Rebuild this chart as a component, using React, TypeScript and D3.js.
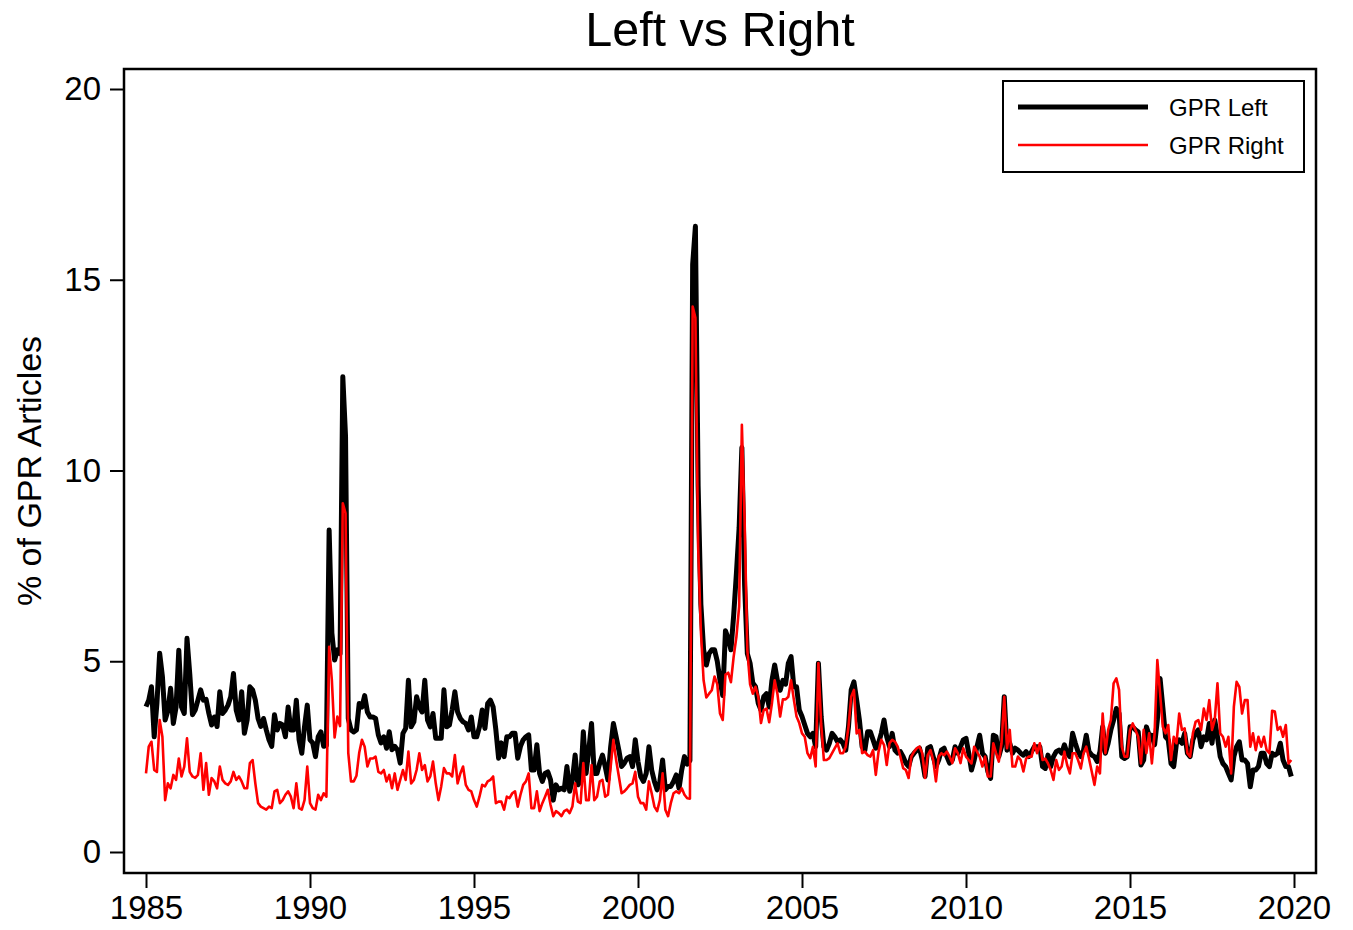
import React, { useEffect, useRef } from 'react'
import * as d3 from 'd3'

// monthly series, Jan 1985 .. Dec 2019 (one row per year)
const startYear = 1985

const gprLeft: number[] = [
  3.81, 3.98, 4.33, 3.02, 3.9, 5.21, 4.6, 3.46, 3.7, 4.29, 3.37, 3.8, // 1985
  5.29, 3.8, 3.63, 5.6, 4.68, 3.6, 3.72, 3.98, 4.25, 3.98, 4.0, 3.63, // 1986
  3.33, 3.54, 3.29, 4.2, 3.63, 3.72, 3.85, 4.07, 4.68, 3.72, 3.46, 4.2, // 1987
  3.11, 3.46, 4.33, 4.25, 3.98, 3.5, 3.29, 3.5, 3.2, 2.94, 2.77, 3.6, // 1988
  3.2, 3.37, 3.33, 3.02, 3.8, 3.2, 3.2, 3.98, 2.94, 2.59, 3.29, 3.85, // 1989
  2.94, 2.86, 2.5, 3.02, 3.15, 2.77, 2.8, 8.44, 5.74, 5.03, 5.3, 5.2, // 1990
  12.46, 10.9, 3.5, 3.2, 3.15, 3.2, 3.89, 3.8, 4.1, 3.67, 3.54, 3.54, // 1991
  3.5, 3.07, 2.86, 3.02, 2.72, 3.15, 2.68, 2.77, 2.68, 2.33, 3.11, 3.24, // 1992
  4.5, 3.28, 3.41, 4.07, 3.8, 3.67, 4.5, 3.46, 3.28, 3.63, 2.98, 2.98, // 1993
  2.98, 4.25, 3.28, 3.33, 3.72, 4.2, 3.67, 3.5, 3.41, 3.37, 3.2, 3.54, // 1994
  3.02, 3.02, 3.28, 3.72, 3.24, 3.89, 3.98, 3.8, 3.2, 2.46, 2.86, 2.5, // 1995
  3.02, 3.02, 3.11, 3.11, 2.46, 2.77, 2.94, 3.02, 3.07, 2.15, 2.15, 2.81, // 1996
  2.06, 1.85, 2.06, 2.1, 1.89, 1.36, 1.76, 1.63, 1.67, 1.63, 2.24, 1.59, // 1997
  1.89, 2.54, 1.76, 1.85, 3.15, 2.06, 2.67, 3.37, 2.06, 2.06, 2.33, 2.54, // 1998
  2.24, 1.89, 2.76, 3.37, 3.02, 2.67, 2.24, 2.33, 2.46, 2.5, 2.24, 2.94, // 1999
  2.37, 1.98, 1.85, 2.06, 2.76, 2.15, 1.85, 1.63, 1.85, 2.41, 1.63, 1.72, // 2000
  1.72, 1.85, 2.02, 1.67, 2.15, 2.5, 2.3, 2.4, 15.4, 16.4, 9.6, 6.5, // 2001
  5.3, 4.9, 5.2, 5.3, 5.3, 5.0, 4.5, 4.1, 5.8, 5.6, 5.3, 6.2, // 2002
  7.3, 8.5, 10.6, 7.0, 5.2, 4.95, 4.43, 4.33, 3.9, 3.72, 4.07, 4.15, // 2003
  3.8, 4.5, 4.9, 4.5, 4.24, 4.5, 4.4, 4.95, 5.12, 4.33, 4.33, 3.72, // 2004
  3.55, 3.33, 3.11, 3.02, 3.11, 2.76, 4.95, 3.55, 2.76, 2.67, 2.85, 3.11, // 2005
  3.02, 2.89, 2.94, 2.85, 2.67, 3.28, 4.25, 4.46, 3.98, 3.46, 2.76, 2.67, // 2006
  3.15, 3.15, 2.94, 2.72, 2.85, 3.11, 3.46, 3.02, 2.76, 3.11, 2.67, 2.59, // 2007
  2.63, 2.5, 2.33, 2.24, 2.5, 2.59, 2.67, 2.72, 2.41, 1.98, 2.72, 2.76, // 2008
  2.5, 2.24, 2.41, 2.67, 2.72, 2.5, 2.33, 2.41, 2.76, 2.59, 2.76, 2.94, // 2009
  2.98, 2.59, 2.15, 2.41, 2.76, 3.06, 2.59, 2.5, 2.11, 1.93, 3.06, 3.02, // 2010
  2.5, 2.76, 4.07, 2.67, 2.85, 2.59, 2.72, 2.67, 2.59, 2.54, 2.63, 2.5, // 2011
  2.63, 2.76, 2.76, 2.76, 2.24, 2.19, 2.54, 2.24, 2.5, 2.63, 2.67, 2.59, // 2012
  2.81, 2.59, 2.5, 3.11, 2.85, 2.63, 2.5, 2.67, 3.06, 2.63, 2.54, 2.5, // 2013
  2.37, 2.63, 3.28, 2.59, 2.85, 3.2, 3.46, 3.76, 3.63, 2.5, 2.45, 2.5, // 2014
  3.28, 3.28, 3.2, 3.15, 2.28, 2.41, 3.28, 3.06, 3.06, 2.81, 3.46, 4.55, // 2015
  3.8, 3.02, 2.94, 2.32, 2.24, 2.85, 2.94, 2.85, 3.11, 2.59, 2.5, 2.94, // 2016
  3.11, 3.2, 2.76, 3.02, 2.94, 3.37, 2.85, 3.46, 3.02, 2.5, 2.32, 2.24, // 2017
  2.06, 1.89, 2.5, 2.76, 2.89, 2.41, 2.41, 2.32, 1.71, 2.15, 2.15, 2.24, // 2018
  2.59, 2.59, 2.32, 2.24, 2.59, 2.54, 2.59, 2.85, 2.41, 2.24, 2.24, 1.98 // 2019
]

const gprRight: number[] = [
  2.06, 2.76, 2.89, 2.15, 2.1, 3.46, 3.02, 1.36, 1.8, 1.67, 2.02, 1.89, // 1985
  2.45, 1.98, 2.24, 2.98, 2.1, 1.98, 1.94, 2.02, 2.59, 1.63, 2.33, 1.5, // 1986
  1.94, 1.85, 1.67, 2.24, 1.89, 1.8, 1.76, 1.85, 2.1, 1.89, 1.98, 1.85, // 1987
  1.67, 1.67, 2.33, 2.41, 1.8, 1.28, 1.19, 1.15, 1.11, 1.19, 1.15, 1.59, // 1988
  1.63, 1.28, 1.36, 1.5, 1.59, 1.45, 1.15, 1.8, 1.15, 1.11, 1.36, 2.24, // 1989
  1.28, 1.15, 1.11, 1.5, 1.36, 1.54, 1.45, 5.38, 4.5, 3.0, 3.55, 3.3, // 1990
  9.14, 8.88, 2.6, 1.85, 1.85, 2.0, 2.6, 2.94, 2.76, 2.24, 2.45, 2.45, // 1991
  2.5, 2.1, 2.06, 2.15, 1.85, 2.02, 1.67, 2.06, 1.63, 1.89, 2.15, 1.89, // 1992
  2.63, 1.8, 1.89, 2.15, 2.59, 2.15, 2.28, 1.85, 1.98, 2.37, 1.8, 1.36, // 1993
  1.72, 2.2, 2.06, 2.06, 1.98, 2.54, 1.8, 2.06, 2.24, 1.76, 1.63, 1.59, // 1994
  1.36, 1.19, 1.45, 1.76, 1.72, 1.85, 1.89, 1.98, 1.28, 1.32, 1.32, 1.11, // 1995
  1.45, 1.41, 1.54, 1.59, 1.19, 1.5, 1.76, 1.85, 2.06, 1.15, 1.15, 1.59, // 1996
  1.07, 1.28, 1.45, 1.63, 1.24, 0.94, 1.07, 1.02, 0.94, 1.07, 1.11, 1.02, // 1997
  1.19, 1.8, 1.32, 1.28, 2.33, 1.36, 1.36, 2.28, 1.36, 1.45, 1.85, 1.89, // 1998
  1.45, 1.5, 2.24, 2.94, 2.41, 1.98, 1.54, 1.59, 1.67, 1.76, 1.8, 2.1, // 1999
  1.45, 1.28, 1.28, 1.11, 1.85, 1.54, 1.19, 1.07, 1.36, 2.06, 1.11, 0.94, // 2000
  1.28, 1.54, 1.59, 1.54, 1.67, 1.5, 1.41, 1.4, 14.3, 14.0, 8.0, 5.8, // 2001
  4.5, 4.05, 4.15, 4.24, 4.6, 4.4, 3.63, 3.46, 4.65, 4.7, 4.45, 5.12, // 2002
  5.64, 6.43, 11.2, 8.7, 5.3, 4.4, 4.15, 4.33, 4.07, 3.38, 3.72, 3.76, // 2003
  3.4, 3.9, 4.5, 4.15, 3.55, 4.0, 4.0, 4.07, 4.5, 4.0, 3.55, 3.38, // 2004
  3.11, 3.02, 2.59, 2.46, 2.76, 2.24, 4.95, 3.37, 2.41, 2.41, 2.46, 2.59, // 2005
  2.72, 2.85, 2.59, 2.59, 2.76, 3.28, 4.07, 4.25, 3.11, 3.2, 2.59, 2.63, // 2006
  2.54, 2.5, 2.67, 2.02, 2.63, 2.94, 2.81, 2.28, 2.85, 2.94, 2.89, 2.76, // 2007
  2.5, 2.2, 2.15, 1.94, 2.5, 2.63, 2.72, 2.76, 2.59, 1.94, 2.54, 2.67, // 2008
  2.41, 1.85, 2.5, 2.59, 2.54, 2.63, 2.5, 2.33, 2.72, 2.59, 2.33, 2.72, // 2009
  2.5, 2.41, 2.32, 2.76, 2.63, 2.5, 2.24, 2.5, 1.98, 1.98, 2.85, 2.59, // 2010
  2.37, 2.85, 4.07, 2.72, 3.2, 2.24, 2.24, 2.5, 2.41, 2.11, 2.45, 2.5, // 2011
  2.5, 2.85, 2.59, 2.85, 2.41, 2.45, 2.32, 2.15, 1.89, 2.41, 2.15, 2.24, // 2012
  2.63, 2.28, 2.06, 2.59, 2.59, 2.41, 2.19, 2.59, 2.76, 2.45, 2.11, 1.76, // 2013
  2.24, 2.06, 3.63, 2.59, 3.2, 3.46, 4.42, 4.55, 4.25, 2.76, 2.5, 2.5, // 2014
  3.2, 3.37, 3.2, 3.02, 2.32, 3.2, 2.59, 3.11, 2.32, 3.11, 5.03, 4.16, // 2015
  3.28, 3.11, 3.33, 2.41, 3.02, 2.85, 3.63, 3.2, 3.24, 2.59, 2.5, 3.11, // 2016
  3.41, 3.46, 3.2, 3.76, 3.46, 3.98, 3.2, 3.46, 4.42, 3.11, 3.02, 2.76, // 2017
  3.02, 2.06, 3.81, 4.46, 4.33, 3.63, 3.98, 3.98, 2.76, 3.11, 2.67, 3.02, // 2018
  2.76, 3.02, 2.67, 2.59, 3.7, 3.68, 3.2, 3.28, 3.02, 3.33, 2.32, 2.41 // 2019
]

const seriesNames = ['GPR Left', 'GPR Right']
const xTicks = [1985, 1990, 1995, 2000, 2005, 2010, 2015, 2020]
const yTicks = [0, 5, 10, 15, 20]

const W = 1353
const H = 930
const plot = { left: 124, right: 1316, top: 69, bottom: 873 }
const font = '"Liberation Sans", Arial, Helvetica, sans-serif'

const xScale = d3.scaleLinear().domain([1985, 2020]).range([146, 1294])
const yScale = d3.scaleLinear().domain([0, 20]).range([852, 89])

const toPoints = (vals: number[]) => vals.map((v, i) => ({ t: startYear + i / 12, v }))

const line = d3.line<{ t: number; v: number }>()
  .x(d => xScale(d.t))
  .y(d => yScale(d.v))

const App = () => {
  const xAxisRef: any = useRef()
  const yAxisRef: any = useRef()

  useEffect(() => {
    const xg = d3.select(xAxisRef.current)
    xg.selectAll('*').remove()
    xg.call(d3.axisBottom(xScale).tickValues(xTicks).tickSize(15).tickPadding(8).tickFormat(d3.format('d')) as any)
    xg.select('.domain').remove()

    const yg = d3.select(yAxisRef.current)
    yg.selectAll('*').remove()
    yg.call(d3.axisLeft(yScale).tickValues(yTicks).tickSize(14).tickPadding(9) as any)
    yg.select('.domain').remove()

    for (const g of [xg, yg]) {
      g.selectAll('line').attr('stroke', '#000').attr('stroke-width', 2)
      g.selectAll('text').attr('font-size', 33).attr('font-family', font).attr('fill', '#000')
    }
  }, [])

  return (
    <svg width={W} height={H} style={{ position: 'absolute', left: 0, top: 0, display: 'block', background: '#fff' }}>
      <rect x={0} y={0} width={W} height={H} fill='#fff' />
      <text x={720} y={46} textAnchor='middle' fontSize={48.5} fontFamily={font}>Left vs Right</text>

      <path d={line(toPoints(gprLeft)) || ''} fill='none' stroke='#000' strokeWidth={5} strokeLinejoin='round' />
      <path d={line(toPoints(gprRight)) || ''} fill='none' stroke='#ff0000' strokeWidth={2.6} strokeLinejoin='round' />

      <rect
        x={plot.left} y={plot.top}
        width={plot.right - plot.left} height={plot.bottom - plot.top}
        fill='none' stroke='#000' strokeWidth={2.5}
      />

      <g ref={xAxisRef} transform={`translate(0, ${plot.bottom})`} />
      <g ref={yAxisRef} transform={`translate(${plot.left}, 0)`} />

      <text
        transform={`translate(41, 471) rotate(-90)`}
        textAnchor='middle' fontSize={34} fontFamily={font}
      >
        % of GPR Articles
      </text>

      {/* legend */}
      <g>
        <rect x={1003} y={81} width={301} height={91} fill='#fff' stroke='#000' strokeWidth={2} />
        <line x1={1018} x2={1148} y1={107} y2={107} stroke='#000' strokeWidth={5} />
        <line x1={1018} x2={1148} y1={145} y2={145} stroke='#ff0000' strokeWidth={2.6} />
        <text x={1169} y={116} fontSize={24} fontFamily={font}>{seriesNames[0]}</text>
        <text x={1169} y={154} fontSize={24} fontFamily={font}>{seriesNames[1]}</text>
      </g>
    </svg>
  )
}

export default App
